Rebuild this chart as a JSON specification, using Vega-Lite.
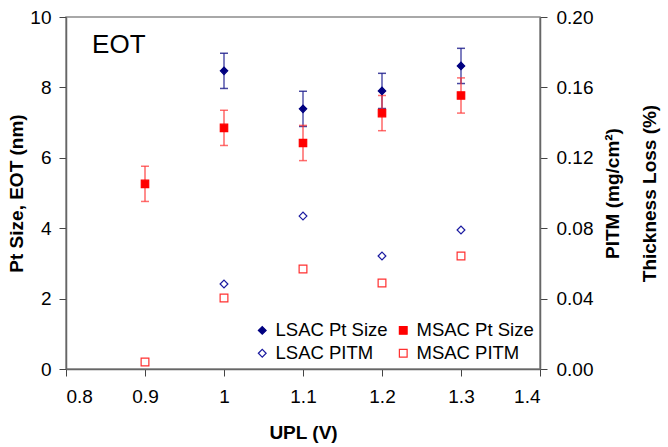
{
  "$schema": "https://vega.github.io/schema/vega-lite/v6.json",
  "autosize": "none",
  "width": 474,
  "height": 352,
  "padding": {"left": 66, "top": 17, "right": 128, "bottom": 78},
  "background": "white",
  "config": {
    "font": "Liberation Sans",
    "view": {"stroke": "#8c8c8c", "strokeWidth": 1.5},
    "axis": {
      "labelFont": "Liberation Sans",
      "titleFont": "Liberation Sans",
      "labelFontSize": 19,
      "titleFontSize": 19,
      "titleFontWeight": "bold",
      "labelColor": "black",
      "titleColor": "black",
      "domainColor": "#666666",
      "domainWidth": 1.5,
      "tickColor": "#444444",
      "tickSize": 7,
      "grid": false
    },
    "legend": {"labelFont": "Liberation Sans", "labelFontSize": 18.5, "labelColor": "black"}
  },
  "data": {
    "values": [
      {"upl": 1.0, "series": "LSAC Pt Size", "value": 8.47, "lo": 7.97, "hi": 8.97},
      {"upl": 1.1, "series": "LSAC Pt Size", "value": 7.39, "lo": 6.89, "hi": 7.89},
      {"upl": 1.2, "series": "LSAC Pt Size", "value": 7.9, "lo": 7.4, "hi": 8.4},
      {"upl": 1.3, "series": "LSAC Pt Size", "value": 8.61, "lo": 8.11, "hi": 9.11},
      {"upl": 0.9, "series": "MSAC Pt Size", "value": 5.26, "lo": 4.76, "hi": 5.76},
      {"upl": 1.0, "series": "MSAC Pt Size", "value": 6.85, "lo": 6.35, "hi": 7.35},
      {"upl": 1.1, "series": "MSAC Pt Size", "value": 6.42, "lo": 5.92, "hi": 6.92},
      {"upl": 1.2, "series": "MSAC Pt Size", "value": 7.27, "lo": 6.77, "hi": 7.77},
      {"upl": 1.3, "series": "MSAC Pt Size", "value": 7.77, "lo": 7.27, "hi": 8.27},
      {"upl": 1.0, "series": "LSAC PITM", "value": 0.0483},
      {"upl": 1.1, "series": "LSAC PITM", "value": 0.0869},
      {"upl": 1.2, "series": "LSAC PITM", "value": 0.0642},
      {"upl": 1.3, "series": "LSAC PITM", "value": 0.079},
      {"upl": 0.9, "series": "MSAC PITM", "value": 0.004},
      {"upl": 1.0, "series": "MSAC PITM", "value": 0.0403},
      {"upl": 1.1, "series": "MSAC PITM", "value": 0.0568},
      {"upl": 1.2, "series": "MSAC PITM", "value": 0.0489},
      {"upl": 1.3, "series": "MSAC PITM", "value": 0.0642}
    ]
  },
  "layer": [
    {
      "layer": [
        {
          "transform": [{"filter": "datum.series == 'LSAC Pt Size'"}],
          "mark": {"type": "rule", "color": "#2a2a96", "opacity": 0.6, "strokeWidth": 2},
          "encoding": {
            "x": {"field": "upl", "type": "quantitative", "scale": {"domain": [0.8, 1.4], "nice": false, "zero": false}, "axis": {"title": "UPL (V)", "values": [0.8, 0.9, 1.0, 1.1, 1.2, 1.3, 1.4], "format": "~g", "labelPadding": 11, "titlePadding": 17}},
            "y": {"field": "lo", "type": "quantitative", "scale": {"domain": [0, 10], "nice": false}, "axis": {"title": "Pt Size, EOT (nm)", "values": [0, 2, 4, 6, 8, 10], "labelPadding": 8, "titlePadding": 3}},
            "y2": {"field": "hi"}
          }
        },
        {
          "transform": [{"filter": "datum.series == 'LSAC Pt Size'"}, {"fold": ["lo", "hi"], "as": ["end", "ev"]}],
          "mark": {"type": "tick", "orient": "horizontal", "color": "#1a1a8a", "opacity": 0.8, "size": 8, "thickness": 1.5},
          "encoding": {
            "x": {"field": "upl", "type": "quantitative"},
            "y": {"field": "ev", "type": "quantitative"}
          }
        },
        {
          "transform": [{"filter": "datum.series == 'MSAC Pt Size'"}],
          "mark": {"type": "rule", "color": "#ff3030", "opacity": 0.55, "strokeWidth": 2},
          "encoding": {
            "x": {"field": "upl", "type": "quantitative"},
            "y": {"field": "lo", "type": "quantitative"},
            "y2": {"field": "hi"}
          }
        },
        {
          "transform": [{"filter": "datum.series == 'MSAC Pt Size'"}, {"fold": ["lo", "hi"], "as": ["end", "ev"]}],
          "mark": {"type": "tick", "orient": "horizontal", "color": "#ff3030", "opacity": 0.7, "size": 8, "thickness": 1.5},
          "encoding": {
            "x": {"field": "upl", "type": "quantitative"},
            "y": {"field": "ev", "type": "quantitative"}
          }
        },
        {
          "transform": [{"filter": "datum.series == 'LSAC Pt Size' || datum.series == 'MSAC Pt Size'"}],
          "mark": {"type": "point", "filled": false, "opacity": 1, "strokeWidth": 1.2, "size": 55},
          "encoding": {
            "x": {"field": "upl", "type": "quantitative"},
            "y": {"field": "value", "type": "quantitative"},
            "shape": {"field": "series", "type": "nominal", "scale": {"domain": ["LSAC Pt Size", "MSAC Pt Size", "LSAC PITM", "MSAC PITM"], "range": ["diamond", "square", "diamond", "square"]}, "legend": {"title": null, "orient": "bottom-right", "direction": "horizontal", "offset": 6, "columns": 2, "columnPadding": 6, "rowPadding": 4, "labelOffset": 4, "symbolStrokeWidth": 1.2, "symbolSize": 60}},
            "fill": {"field": "series", "type": "nominal", "scale": {"domain": ["LSAC Pt Size", "MSAC Pt Size", "LSAC PITM", "MSAC PITM"], "range": ["#000080", "#ff0000", "transparent", "transparent"]}},
            "stroke": {"field": "series", "type": "nominal", "scale": {"domain": ["LSAC Pt Size", "MSAC Pt Size", "LSAC PITM", "MSAC PITM"], "range": ["#000080", "#ff0000", "#1a1aa0", "#ff3030"]}}
          }
        },
        {
          "data": {"values": [{"label": "EOT"}]},
          "mark": {"type": "text", "align": "left", "baseline": "alphabetic", "fontSize": 26, "fill": "black"},
          "encoding": {
            "text": {"field": "label", "type": "nominal"},
            "x": {"datum": 0.833},
            "y": {"datum": 8.98}
          }
        }
      ]
    },
    {
      "mark": {"type": "point", "filled": false, "opacity": 1, "strokeWidth": 1.2, "size": 60},
      "transform": [{"filter": "datum.series == 'LSAC PITM' || datum.series == 'MSAC PITM'"}],
      "encoding": {
        "x": {"field": "upl", "type": "quantitative"},
        "y": {
          "field": "value",
          "type": "quantitative",
          "scale": {"domain": [0, 0.2], "nice": false},
          "axis": {
            "orient": "right",
            "title": ["PITM (mg/cm²)", "Thickness Loss (%)"],
            "titleAngle": 270,
            "titleLineHeight": 37,
            "values": [0, 0.04, 0.08, 0.12, 0.16, 0.2],
            "format": ".2f",
            "labelPadding": 9,
            "titlePadding": -7
          }
        },
        "shape": {"field": "series", "type": "nominal"},
        "fill": {"field": "series", "type": "nominal"},
        "stroke": {"field": "series", "type": "nominal"}
      }
    }
  ],
  "resolve": {"scale": {"y": "independent"}}
}
